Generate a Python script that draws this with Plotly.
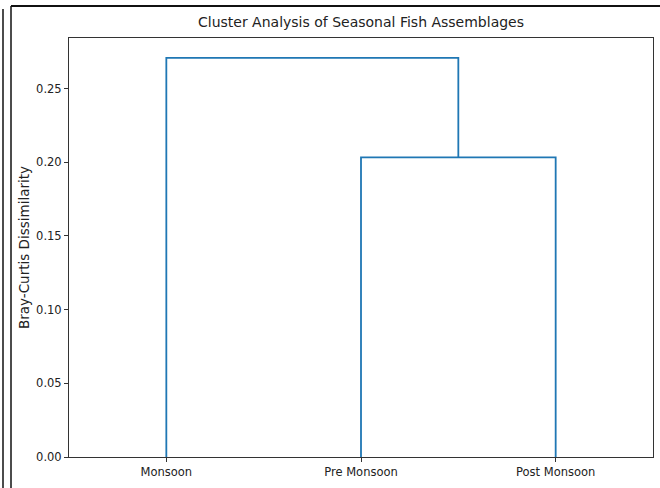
import plotly.graph_objects as go

# Data
leaf_labels = ["Monsoon", "Pre Monsoon", "Post Monsoon"]
leaf_positions = [5, 15, 25]
# merges: (left node, right node, height); nodes: 0..2 leaves, 3.. new clusters
merges = [(1, 2, 0.2033), (0, 3, 0.2707)]
y_ticks = [0.00, 0.05, 0.10, 0.15, 0.20, 0.25]

# Build dendrogram U-shapes
node_x = {i: p for i, p in enumerate(leaf_positions)}
node_y = {i: 0.0 for i in range(len(leaf_positions))}
xs, ys = [], []
for k, (a, b, h) in enumerate(merges):
    xs += [node_x[a], node_x[a], node_x[b], node_x[b], None]
    ys += [node_y[a], h, h, node_y[b], None]
    nid = len(leaf_positions) + k
    node_x[nid] = (node_x[a] + node_x[b]) / 2
    node_y[nid] = h

fig = go.Figure()
fig.add_trace(go.Scatter(x=xs, y=ys, mode="lines",
                         line=dict(color="#1f77b4", width=1.8),
                         hoverinfo="skip", showlegend=False))

ymax = max(h for _, _, h in merges) * 1.05

W, H = 660, 488
L, R, T, B = 69, 7, 38, 31
pw, ph = W - L - R, H - T - B

def px(x):
    return (x - L) / pw

def py(y):
    return (H - B - y) / ph

fig.update_layout(
    width=W, height=H,
    margin=dict(l=L, r=R, t=T, b=B),
    paper_bgcolor="white", plot_bgcolor="white",
    font=dict(family="DejaVu Sans", color="#222", size=11.5),
    title=dict(text="Cluster Analysis of Seasonal Fish Assemblages",
               x=0.5 * (L + W - R) / W, xanchor="center",
               y=1 - 22 / H, yanchor="middle",
               font=dict(size=14, family="DejaVu Sans", color="#222")),
    xaxis=dict(range=[0, 30], tickvals=leaf_positions, ticktext=leaf_labels,
               showgrid=False, zeroline=False, showline=True, mirror=True,
               linecolor="#333", linewidth=1, ticks="outside", ticklen=4,
               tickcolor="#333", tickfont=dict(size=11.5)),
    yaxis=dict(range=[0, ymax], tickvals=y_ticks,
               ticktext=[f"{v:.2f}" for v in y_ticks],
               showgrid=False, zeroline=False, showline=True, mirror=True,
               linecolor="#333", linewidth=1, ticks="outside", ticklen=4,
               tickcolor="#333", tickfont=dict(size=11.5),
               title=dict(text="Bray-Curtis Dissimilarity", standoff=3,
                          font=dict(size=13.5))),
    shapes=[
        dict(type="line", xref="paper", yref="paper",
             x0=px(3), x1=px(3), y0=py(9), y1=py(H + 2),
             line=dict(color="#111", width=1.5)),
        dict(type="line", xref="paper", yref="paper",
             x0=px(11), x1=px(11), y0=py(6), y1=py(H + 2),
             line=dict(color="#111", width=1.5)),
        dict(type="line", xref="paper", yref="paper",
             x0=px(11), x1=px(W + 2), y0=py(6), y1=py(6),
             line=dict(color="#111", width=2)),
    ],
)

fig.write_html("out.html",
               config={"displayModeBar": False},
               post_script="document.body.style.margin='0';"
                           "document.body.style.padding='0';"
                           "document.body.style.overflow='hidden';")
